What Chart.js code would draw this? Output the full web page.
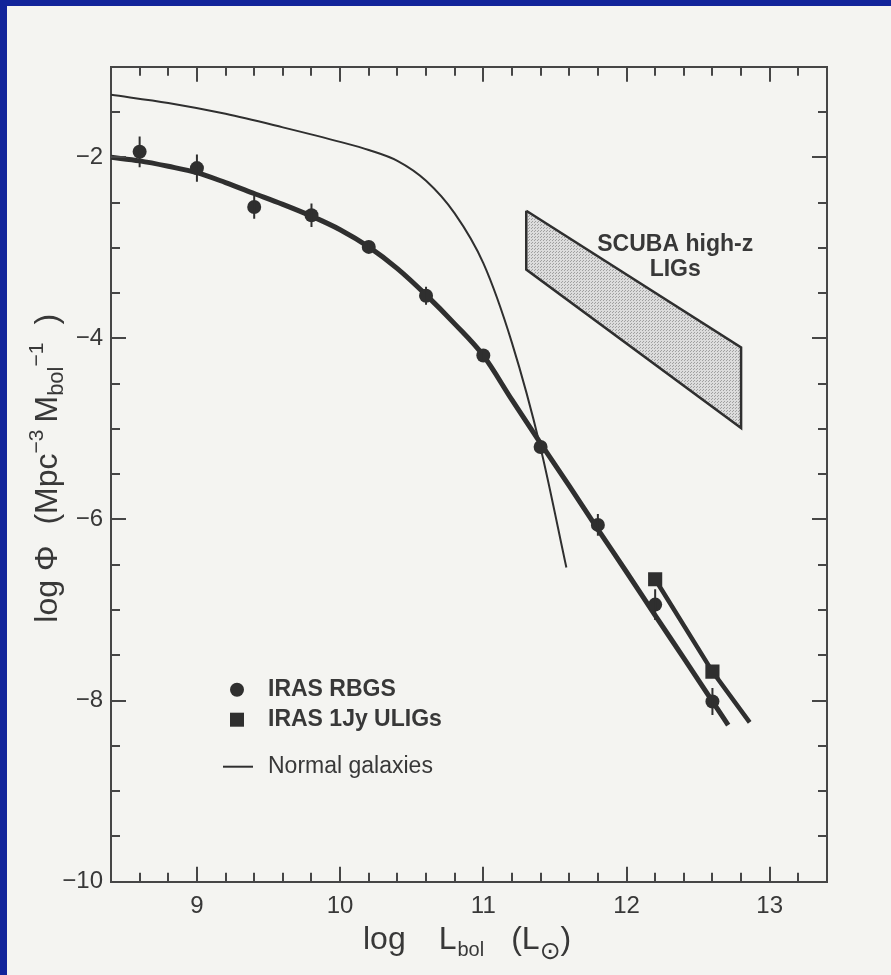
<!DOCTYPE html>
<html>
<head>
<meta charset="utf-8">
<script src="https://cdn.jsdelivr.net/npm/chart.js@4.4.0/dist/chart.umd.min.js"></script>
<style>
  html, body { margin: 0; padding: 0; background: #12249a; }
  #wrap { position: absolute; left: 0; top: 0; width: 891px; height: 975px; }
</style>
</head>
<body>
<div id="wrap"><canvas id="lf" width="891" height="975"></canvas></div>
<script>
// IRAS RBGS points (log L, log phi) and vertical error sizes
const rbgsX = [8.6, 9.0, 9.4, 9.8, 10.2, 10.6, 11.0, 11.4, 11.8, 12.2, 12.6];
const rbgsY = [-1.94, -2.12, -2.55, -2.64, -2.99, -3.53, -4.19, -5.20, -6.06, -6.94, -8.01];
const rbgsErr = [0.17, 0.15, 0.13, 0.13, 0.06, 0.1, 0.05, 0.05, 0.12, 0.17, 0.15];

// IRAS 1Jy ULIGs
const uligX = [12.2, 12.6];
const uligY = [-6.66, -7.68];

// fit through the RBGS points
const fitX = [8.4, 8.6, 8.8, 9.0, 9.2, 9.4, 9.6, 9.8, 10.0, 10.2, 10.4, 10.6, 10.8, 11.0, 11.2, 11.4, 11.6, 11.8, 12.0, 12.2, 12.4, 12.6, 12.71];
const fitY = [-2.00, -2.04, -2.10, -2.17, -2.28, -2.40, -2.52, -2.65, -2.80, -2.99, -3.23, -3.52, -3.84, -4.19, -4.68, -5.16, -5.63, -6.11, -6.58, -7.06, -7.53, -8.01, -8.27];

// line through the ULIG points
const uligFitX = [12.2, 12.6, 12.86];
const uligFitY = [-6.66, -7.68, -8.24];

// normal galaxies
const normalX = [8.4, 8.8, 9.2, 9.6, 10.0, 10.2, 10.4, 10.6, 10.8, 11.0, 11.2, 11.4, 11.58];
const normalY = [-1.31, -1.40, -1.52, -1.67, -1.83, -1.92, -2.04, -2.26, -2.62, -3.17, -4.05, -5.21, -6.53];

// SCUBA high-z band (closed outline)
const scubaX = [11.3, 12.8, 12.8, 11.3, 11.3];
const scubaY = [-2.59, -4.10, -4.99, -3.24, -2.59];

const xTicks = [9, 10, 11, 12, 13];
const yTicks = [-10, -8, -6, -4, -2];
const xMinorStep = 0.2;
const yMinorStep = 0.5;

const ink = '#2f2f2f';
const axisInk = '#464646';
const textInk = '#383838';
const FONT = '"Liberation Sans", Arial, Helvetica, sans-serif';

const pts = (xs, ys) => xs.map((x, i) => ({ x: x, y: ys[i] }));

// stippled grey for the band
function stipple() {
  const c = document.createElement('canvas');
  c.width = 3; c.height = 3;
  const g = c.getContext('2d');
  g.fillStyle = '#dcdcdc';
  g.fillRect(0, 0, 3, 3);
  g.fillStyle = '#a0a0a0';
  g.fillRect(0, 0, 1, 1);
  g.fillRect(1, 2, 1, 1);
  return g.createPattern(c, 'repeat');
}

// draws a run of text pieces (for sub/superscripts)
function richText(ctx, parts, x, y) {
  let cx = x;
  for (const p of parts) {
    if (p.gap) { cx += p.gap; continue; }
    ctx.font = (p.bold ? 'bold ' : '') + p.size + 'px ' + (p.family || FONT);
    ctx.fillText(p.t, cx, y + (p.dy || 0));
    cx += ctx.measureText(p.t).width;
  }
  return cx - x;
}

const pageBg = {
  id: 'pageBg',
  beforeDraw(chart) {
    const { ctx, width, height } = chart;
    ctx.save();
    ctx.fillStyle = '#12249a';
    ctx.fillRect(0, 0, width, height);
    ctx.fillStyle = '#f4f4f1';
    ctx.fillRect(7, 6, width - 7, height - 6);
    ctx.restore();
  }
};

const inwardTicks = {
  id: 'inwardTicks',
  afterDatasetsDraw(chart) {
    const { ctx, chartArea: a, scales: { x, y } } = chart;
    ctx.save();
    ctx.strokeStyle = axisInk;
    ctx.lineWidth = 2;
    ctx.beginPath();
    const nx = Math.round((x.max - x.min) / xMinorStep);
    for (let i = 1; i < nx; i++) {
      const v = x.min + i * xMinorStep;
      const len = Math.abs(v - Math.round(v)) < 1e-6 ? 15 : 9;
      const px = Math.round(x.getPixelForValue(v));
      ctx.moveTo(px, a.bottom); ctx.lineTo(px, a.bottom - len);
      ctx.moveTo(px, a.top); ctx.lineTo(px, a.top + len);
    }
    const ny = Math.round((y.max - y.min) / yMinorStep);
    for (let i = 1; i < ny; i++) {
      const v = y.min + i * yMinorStep;
      const len = Math.abs(v / 2 - Math.round(v / 2)) < 1e-6 ? 15 : 9;
      const py = Math.round(y.getPixelForValue(v));
      ctx.moveTo(a.left, py); ctx.lineTo(a.left + len, py);
      ctx.moveTo(a.right, py); ctx.lineTo(a.right - len, py);
    }
    ctx.stroke();
    ctx.restore();
  }
};

const errorBars = {
  id: 'errorBars',
  afterDatasetsDraw(chart) {
    const { ctx, scales: { x, y } } = chart;
    ctx.save();
    ctx.strokeStyle = ink;
    ctx.lineWidth = 2;
    ctx.beginPath();
    rbgsX.forEach((v, i) => {
      const px = x.getPixelForValue(v);
      ctx.moveTo(px, y.getPixelForValue(rbgsY[i] + rbgsErr[i]));
      ctx.lineTo(px, y.getPixelForValue(rbgsY[i] - rbgsErr[i]));
    });
    ctx.stroke();
    ctx.restore();
  }
};

const labels = {
  id: 'labels',
  afterDraw(chart) {
    const { ctx, chartArea: a, scales: { x, y } } = chart;
    ctx.save();
    ctx.fillStyle = textInk;

    // SCUBA label
    ctx.textAlign = 'center';
    ctx.textBaseline = 'middle';
    ctx.font = 'bold 23px ' + FONT;
    ctx.fillText('SCUBA high-z', x.getPixelForValue(12.34), y.getPixelForValue(-2.96));
    ctx.fillText('LIGs', x.getPixelForValue(12.34), y.getPixelForValue(-3.24));

    // legend
    const lx = a.left + 126, tx = a.left + 157;
    const ly1 = a.bottom - 192, ly2 = a.bottom - 162, ly3 = a.bottom - 115;
    ctx.fillStyle = ink;
    ctx.beginPath(); ctx.arc(lx, ly1, 7, 0, Math.PI * 2); ctx.fill();
    ctx.fillRect(lx - 7, ly2 - 7, 14, 14);
    ctx.strokeStyle = ink; ctx.lineWidth = 2;
    ctx.beginPath(); ctx.moveTo(lx - 14, ly3); ctx.lineTo(lx + 16, ly3); ctx.stroke();
    ctx.fillStyle = textInk;
    ctx.textAlign = 'left';
    ctx.font = 'bold 23px ' + FONT;
    ctx.fillText('IRAS RBGS', tx, ly1);
    ctx.fillText('IRAS 1Jy ULIGs', tx, ly2);
    ctx.font = '23px ' + FONT;
    ctx.fillText('Normal galaxies', tx, ly3);

    // x title
    ctx.textBaseline = 'alphabetic';
    const xt = [
      { t: 'log', size: 32 }, { gap: 33 }, { t: 'L', size: 32 },
      { gap: 1 }, { t: 'bol', size: 20, dy: 7 }, { gap: 27 },
      { t: '(L', size: 32 }, { t: '\u2299', size: 25, dy: 10, family: '"DejaVu Sans", sans-serif' }, { t: ')', size: 32 }
    ];
    richText(ctx, xt, a.left + 252, a.bottom + 67);

    // y title (rotated)
    const yt = [
      { t: 'log \u03a6', size: 32 }, { gap: 21 }, { t: '(Mpc', size: 32 },
      { t: '\u22123', size: 21, dy: -14 }, { gap: 7 }, { t: 'M', size: 32 },
      { t: 'bol', size: 22, dy: 6 }, { t: '\u22121', size: 21, dy: -14 }, { gap: 18 }, { t: ')', size: 32 }
    ];
    ctx.translate(57, a.bottom - 259);
    ctx.rotate(-Math.PI / 2);
    richText(ctx, yt, 0, 0);
    ctx.restore();
  }
};

const ctx = document.getElementById('lf').getContext('2d');
const chart = new Chart(ctx, {
  type: 'scatter',
  data: {
    datasets: [
      {
        label: 'IRAS RBGS',
        data: pts(rbgsX, rbgsY),
        pointStyle: 'circle', pointRadius: 7, pointBackgroundColor: ink, pointBorderWidth: 0,
        showLine: false
      },
      {
        label: 'IRAS 1Jy ULIGs',
        data: pts(uligX, uligY),
        pointStyle: 'rect', pointRadius: 10, pointBackgroundColor: ink, pointBorderWidth: 0,
        showLine: false
      },
      {
        label: 'RBGS fit',
        data: pts(fitX, fitY),
        showLine: true, borderColor: ink, borderWidth: 5, pointRadius: 0,
        cubicInterpolationMode: 'monotone', fill: false
      },
      {
        label: 'ULIG fit',
        data: pts(uligFitX, uligFitY),
        showLine: true, borderColor: ink, borderWidth: 4.5, pointRadius: 0, fill: false
      },
      {
        label: 'Normal galaxies',
        data: pts(normalX, normalY),
        showLine: true, borderColor: ink, borderWidth: 2, pointRadius: 0,
        cubicInterpolationMode: 'monotone', fill: false
      },
      {
        label: 'SCUBA high-z LIGs',
        data: pts(scubaX, scubaY),
        showLine: true, borderColor: ink, borderWidth: 2.5, pointRadius: 0, tension: 0,
        borderJoinStyle: 'miter',
        backgroundColor: stipple(), fill: 'shape'
      }
    ]
  },
  options: {
    responsive: false,
    animation: false,
    devicePixelRatio: 1,
    layout: { padding: 0 },
    plugins: { legend: { display: false }, tooltip: { enabled: false } },
    scales: {
      x: {
        type: 'linear', position: 'bottom', min: 8.4, max: 13.4,
        afterBuildTicks: s => { s.ticks = xTicks.map(v => ({ value: v })); },
        afterFit: s => { s.height = 93.3; },
        grid: { display: false, drawTicks: false },
        border: { display: true, color: axisInk, width: 2 },
        ticks: { color: textInk, font: { family: FONT, size: 24 }, padding: 10, maxRotation: 0, autoSkip: false }
      },
      x2: {
        type: 'linear', position: 'top', min: 8.4, max: 13.4,
        afterFit: s => { s.height = 66.7; },
        grid: { display: false, drawTicks: false },
        border: { display: true, color: axisInk, width: 2 },
        ticks: { display: false }
      },
      y: {
        type: 'linear', position: 'left', min: -10, max: -1,
        afterBuildTicks: s => { s.ticks = yTicks.map(v => ({ value: v })); },
        afterFit: s => { s.width = 111; },
        grid: { display: false, drawTicks: false },
        border: { display: true, color: axisInk, width: 2 },
        ticks: {
          color: textInk, font: { family: FONT, size: 24 }, padding: 8,
          callback: v => String(v).replace('-', '\u2212')
        }
      },
      y2: {
        type: 'linear', position: 'right', min: -10, max: -1,
        afterFit: s => { s.width = 64; },
        grid: { display: false, drawTicks: false },
        border: { display: true, color: axisInk, width: 2 },
        ticks: { display: false }
      }
    }
  },
  plugins: [pageBg, inwardTicks, errorBars, labels]
});
</script>
</body>
</html>
